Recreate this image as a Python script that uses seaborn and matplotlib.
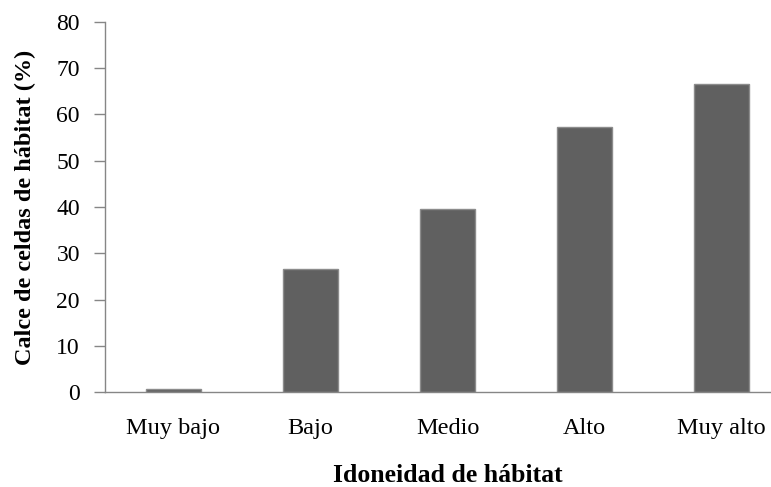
import numpy as np
import pandas as pd
import matplotlib
matplotlib.use("Agg")
import matplotlib.pyplot as plt
import seaborn as sns

# datos
categorias = ["Muy bajo", "Bajo", "Medio", "Alto", "Muy alto"]
valores = [0.6, 26.6, 39.5, 57.2, 66.6]
y_ticks = [0, 10, 20, 30, 40, 50, 60, 70, 80]

sns.set_style("white")
plt.rcParams['font.family'] = ['Liberation Serif', 'DejaVu Serif']
plt.rcParams['text.color'] = 'black'
plt.rcParams['axes.labelcolor'] = 'black'
plt.rcParams['xtick.labelcolor'] = 'black'
plt.rcParams['ytick.labelcolor'] = 'black'

df = pd.DataFrame({"cat": categorias, "val": valores})

fig = plt.figure(figsize=(7.71, 4.87), dpi=100)
# el eje se extiende más allá del borde derecho, como en el original
ax = fig.add_axes([105/771, 95/487, 685/771, 370/487])

sns.barplot(data=df, x="cat", y="val", color="#606060", saturation=1,
            width=0.4, edgecolor="#8c8c8c", linewidth=1, ax=ax)

ax.set_ylim(0, 80)
ax.set_xlim(-0.5, 4.5)
ax.set_yticks(y_ticks)
ax.set_yticklabels([str(t) for t in y_ticks], fontsize=17)

# ticks del eje x solo entre categorías
ax.set_xticks(range(len(categorias)))
ax.set_xticklabels(categorias, fontsize=17.5)
ax.set_xticks(np.arange(-0.5, 4.6, 1), minor=True)
ax.tick_params(axis='x', which='major', length=0, pad=19)
ax.tick_params(axis='x', which='minor', length=8, width=1, color="#868686", direction='out')
ax.tick_params(axis='y', length=8, width=1, color="#868686", direction='out', pad=10, left=True)

for s in ["top", "right"]:
    ax.spines[s].set_visible(False)
for s in ["left", "bottom"]:
    ax.spines[s].set_color("#868686")
    ax.spines[s].set_linewidth(1)

ax.set_ylabel("Calce de celdas de hábitat (%)", fontsize=17.5, fontweight='bold', labelpad=15)
ax.set_xlabel("Idoneidad de hábitat", fontsize=18.5, fontweight='bold', labelpad=17.5)

fig.savefig("out.png", dpi=100)
